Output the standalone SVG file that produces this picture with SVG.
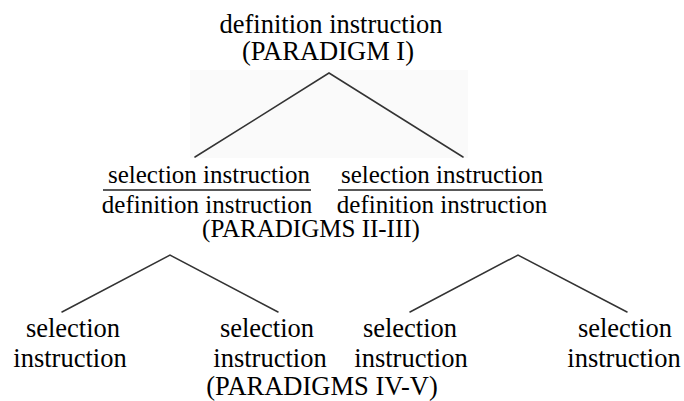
<svg xmlns="http://www.w3.org/2000/svg" width="684" height="401" viewBox="0 0 684 401">
  <style>
    text { font-family: "Liberation Serif", "Times New Roman", serif; fill: #000; text-anchor: middle; }
    .big { font-size: 26.5px; }
    .mid { font-size: 25px; }
    .branch { stroke: #333; stroke-width: 1.5; fill: none; stroke-linecap: round; stroke-linejoin: miter; }
    .bar { stroke: #222; stroke-width: 1.6; }
  </style>
  <rect width="684" height="401" fill="#fff"/>
  <!-- faint shaded panel behind the upper branches -->
  <rect x="190" y="70" width="278" height="88" fill="#fafafa"/>

  <g id="connectors">
    <polyline class="branch" points="195,157 329,73 463,157"/>
    <polyline class="branch" points="62,312 170,255 278,312"/>
    <polyline class="branch" points="410,312 518,255 627,312"/>
  </g>

  <g id="root">
    <text class="big" x="331" y="33">definition instruction</text>
    <text class="big" x="328" y="60">(PARADIGM I)</text>
  </g>

  <g id="mid-left">
    <text class="mid" x="209" y="183">selection instruction</text>
    <line class="bar" x1="103" y1="190" x2="311" y2="190"/>
    <text class="mid" x="207" y="213">definition instruction</text>
  </g>

  <g id="mid-right">
    <text class="mid" x="442" y="183">selection instruction</text>
    <line class="bar" x1="338" y1="190" x2="543" y2="190"/>
    <text class="mid" x="442" y="213">definition instruction</text>
  </g>

  <g id="mid-label">
    <text class="mid" x="311" y="237">(PARADIGMS II-III)</text>
  </g>

  <g id="leaf-1">
    <text class="big" x="73" y="337">selection</text>
    <text class="big" x="70" y="367">instruction</text>
  </g>
  <g id="leaf-2">
    <text class="big" x="267" y="337">selection</text>
    <text class="big" x="270" y="367">instruction</text>
  </g>
  <g id="leaf-3">
    <text class="big" x="410" y="337">selection</text>
    <text class="big" x="411" y="367">instruction</text>
  </g>
  <g id="leaf-4">
    <text class="big" x="625" y="337">selection</text>
    <text class="big" x="624" y="367">instruction</text>
  </g>

  <g id="bottom-label">
    <text class="big" x="322" y="395">(PARADIGMS IV-V)</text>
  </g>
</svg>
